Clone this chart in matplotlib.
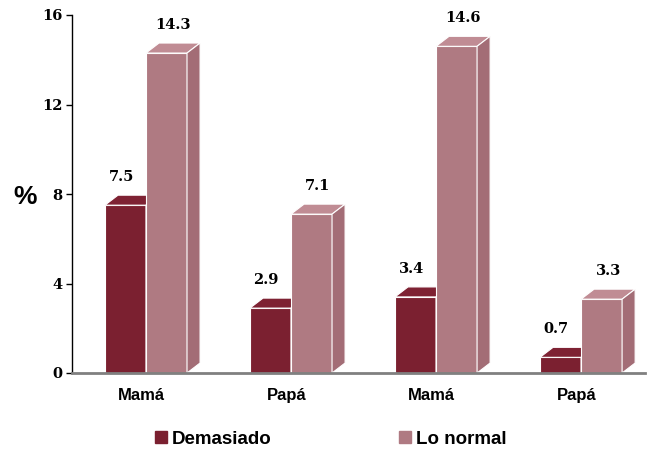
import matplotlib.pyplot as plt
from matplotlib.patches import Polygon
import numpy as np

categories = ['Mamá', 'Papá', 'Mamá', 'Papá']
demasiado = [7.5, 2.9, 3.4, 0.7]
lo_normal = [14.3, 7.1, 14.6, 3.3]
series_names = ['Demasiado', 'Lo normal']
yticks = [0, 4, 8, 12, 16]

# front, top, side colours for each series
dark = ('#7b2030', '#7e2233', '#6e1c2b')
light = ('#af7a82', '#c08c94', '#a36d76')

width = 0.283
dx, dy = 0.09, 0.447

fig = plt.figure(figsize=(6.55, 4.51), dpi=100)
ax = fig.add_axes([72 / 655, 78 / 451, 573 / 655, 358 / 451])
ax.set_xlim(-0.51, 3.441)
ax.set_ylim(0, 16)


def bar3d(x0, h, cols):
    ax.bar(x0, h, width=width, align='edge', color=cols[0], edgecolor='white',
           linewidth=0.8, zorder=3)
    top = [(x0, h), (x0 + dx, h + dy), (x0 + width + dx, h + dy), (x0 + width, h)]
    side = [(x0 + width, 0), (x0 + width + dx, dy), (x0 + width + dx, h + dy), (x0 + width, h)]
    ax.add_patch(Polygon(top, closed=True, facecolor=cols[1], edgecolor='white',
                         linewidth=0.8, zorder=3, clip_on=False))
    ax.add_patch(Polygon(side, closed=True, facecolor=cols[2], edgecolor='white',
                         linewidth=0.8, zorder=3, clip_on=False))


x = np.arange(len(categories))
for i in x:
    bar3d(i - width, demasiado[i], dark)
    bar3d(i, lo_normal[i], light)
    ax.text(i - width / 2 - 0.03, demasiado[i] + dy + 0.5, f'{demasiado[i]:.1f}',
            ha='center', va='bottom', fontsize=10.5, fontweight='bold', family='DejaVu Serif')
    ax.text(i + width / 2 + dx / 2, lo_normal[i] + dy + 0.5, f'{lo_normal[i]:.1f}',
            ha='center', va='bottom', fontsize=10.5, fontweight='bold', family='DejaVu Serif')

ax.set_xticks(x - 0.03)
ax.set_xticklabels(categories, fontsize=12, fontweight='bold', family='Liberation Sans')
ax.tick_params(axis='x', length=0, pad=11)
ax.set_yticks(yticks)
ax.set_yticklabels([str(t) for t in yticks], fontsize=10.5, fontweight='bold',
                   family='DejaVu Serif')
ax.tick_params(axis='y', direction='out', length=4, width=1, pad=3)

for s in ['top', 'right']:
    ax.spines[s].set_visible(False)
ax.spines['left'].set_color('black')
ax.spines['left'].set_linewidth(1)
ax.spines['bottom'].set_color('#808080')
ax.spines['bottom'].set_linewidth(2)
ax.spines['bottom'].set_zorder(4)

fig.text(25 / 655, 1 - 197 / 451, '%', fontsize=19, fontweight='bold',
         family='Liberation Sans', ha='center', va='center')

# legend
handles = [plt.Rectangle((0, 0), 1, 1, color=dark[0]),
           plt.Rectangle((0, 0), 1, 1, color=light[0])]
fig.legend(handles, series_names, loc='center', bbox_to_anchor=(0.5046, 1 - 439 / 451),
           ncol=2, frameon=False, columnspacing=6.8, handlelength=0.64, handleheight=0.64,
           handletextpad=0.25, borderpad=0, borderaxespad=0,
           prop={'family': 'Liberation Sans', 'weight': 'bold', 'size': 13.5})

fig.savefig('out.png', dpi=100)
